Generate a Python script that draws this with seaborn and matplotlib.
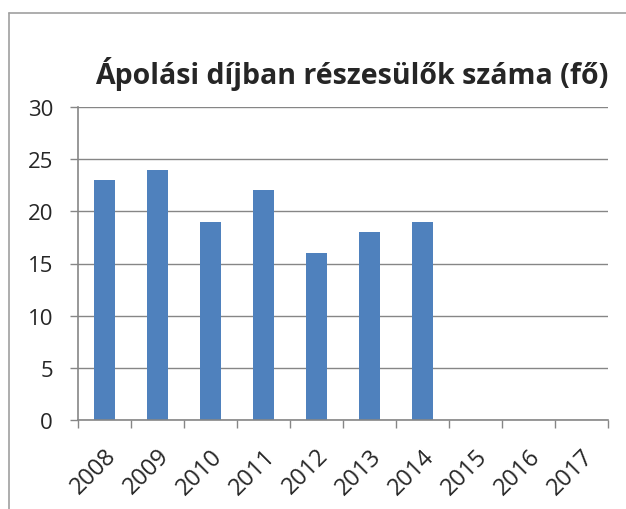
import numpy as np
import pandas as pd
import matplotlib
matplotlib.use("Agg")
import matplotlib.pyplot as plt
from matplotlib.lines import Line2D
import seaborn as sns

years = ["2008", "2009", "2010", "2011", "2012", "2013", "2014", "2015", "2016", "2017"]
values = [23, 24, 19, 22, 16, 18, 19, np.nan, np.nan, np.nan]
title = "Ápolási díjban részesülők száma (fő)"

sns.set_style("white")
plt.rcParams["font.family"] = ["Open Sans", "DejaVu Sans"]

df = pd.DataFrame({"year": years, "value": values})

fig = plt.figure(figsize=(6.26, 5.10), dpi=100)
ax = fig.add_axes([78 / 626, 1 - 421 / 510, (608 - 78) / 626, (421 - 108) / 510])

sns.barplot(data=df, x="year", y="value", color="#4F81BD", saturation=1,
            width=0.38, linewidth=0, ax=ax, order=years)

ax.set_ylim(0, 30)
ax.set_xlim(-0.5, len(years) - 0.5)
ax.set_yticks(range(0, 31, 5))
ax.yaxis.grid(True, color="#868686", linewidth=1)
ax.set_axisbelow(True)
ax.set_xlabel("")
ax.set_ylabel("")

for side in ["top", "right"]:
    ax.spines[side].set_visible(False)
for side in ["left", "bottom"]:
    ax.spines[side].set_color("#868686")
    ax.spines[side].set_linewidth(1.2)

ax.tick_params(axis="y", which="major", length=6, width=1, color="#868686",
               labelsize=16, pad=12, left=True)
ax.tick_params(axis="x", which="major", length=0, labelsize=17, pad=17)
ax.set_xticks(np.arange(-0.5, len(years), 1.0), minor=True)
ax.tick_params(axis="x", which="minor", length=6, width=1, color="#868686", bottom=True)
for lbl in ax.get_xticklabels():
    lbl.set_rotation(45)
    lbl.set_ha("right")
    lbl.set_rotation_mode("anchor")

fig.text(352 / 626, 1 - 74 / 510, title, ha="center", va="center",
         fontsize=20.5, fontweight="bold")

# outer chart frame
fig.add_artist(Line2D([8.5 / 626, 8.5 / 626], [0, 1 - 14 / 510], transform=fig.transFigure,
                      color="#A0A0A0", linewidth=1.2))
fig.add_artist(Line2D([8.5 / 626, 1], [1 - 14 / 510, 1 - 14 / 510], transform=fig.transFigure,
                      color="#A0A0A0", linewidth=1.2))

fig.savefig("out.png", dpi=100)
